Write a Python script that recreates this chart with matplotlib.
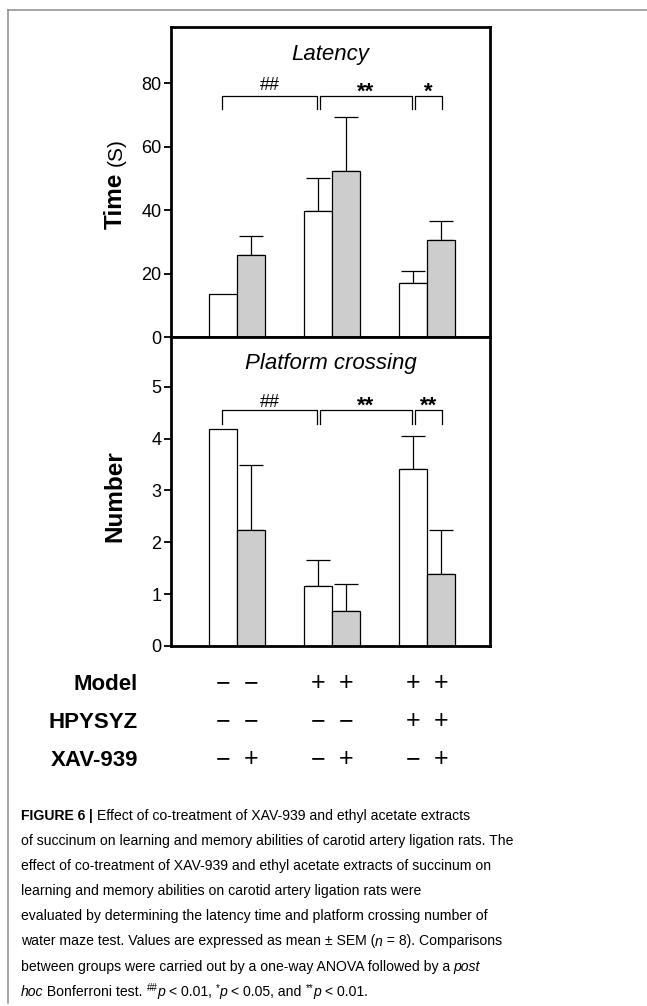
import matplotlib
matplotlib.use("Agg")
import matplotlib.pyplot as plt
import matplotlib.transforms as mtransforms
from matplotlib.lines import Line2D
import numpy as np

plt.rcParams['font.family'] = ['Liberation Sans', 'DejaVu Sans']

# data (mean and SEM, n = 8)
latency = [13.7, 25.8, 39.6, 52.5, 17.0, 30.5]
latency_sem = [0, 6.2, 10.7, 16.9, 3.7, 6.0]
crossing = [4.18, 2.24, 1.15, 0.67, 3.42, 1.39]
crossing_sem = [0, 1.25, 0.51, 0.52, 0.63, 0.85]

# significance brackets: (from bar, to bar, label)
latency_sig = [(0, 2, "##"), (2, 4, "**"), (4, 5, "*")]
crossing_sig = [(0, 2, "##"), (2, 4, "**"), (4, 5, "**")]

row_labels = ["Model", "HPYSYZ", "XAV-939"]
model_signs = ["\u2212", "\u2212", "+", "+", "+", "+"]
hpysyz_signs = ["\u2212", "\u2212", "\u2212", "\u2212", "+", "+"]
xav_signs = ["\u2212", "+", "\u2212", "+", "\u2212", "+"]

W, H = 647, 1006
fig = plt.figure(figsize=(W / 100, H / 100), dpi=100)


def fx(px):
    return px / W


def fy(py):
    return 1 - py / H


bw = 0.295
xc = []
for g in range(3):
    xc += [g - bw / 2, g + bw / 2]
xc = np.array(xc)
colors = ["white", "#cdcdcd"] * 3

ax1 = fig.add_axes([fx(171), fy(337), fx(490) - fx(171), fy(27) - fy(337)])
ax2 = fig.add_axes([fx(171), fy(646), fx(490) - fx(171), fy(337) - fy(646)])


def panel(ax, vals, sem, sig, ylim, ticks, title, br_hi, br_lo, lab_y):
    ax.bar(xc, vals, width=bw, color=colors, edgecolor="black", linewidth=0.9, zorder=2)
    sem = np.array(sem)
    m = sem > 0
    ax.errorbar(xc[m], np.array(vals)[m], yerr=[np.zeros(m.sum()), sem[m]], fmt="none",
                ecolor="black", elinewidth=0.9, capsize=8.5, capthick=0.9, zorder=1)
    ax.set_xlim(-0.695, 2.663)
    ax.set_ylim(*ylim)
    ax.set_yticks(ticks)
    ax.set_xticks([])
    for s in ax.spines.values():
        s.set_linewidth(2.0)
    ax.tick_params(axis="y", length=5, width=1.3, pad=2, labelsize=13)
    ax.text(0.5, title[1], title[0], transform=ax.transAxes, ha="center", va="center",
            fontsize=16, style="italic")
    for i, j, lab in sig:
        left = xc[i] + (0.018 if i > 0 else -0.01)
        right = xc[j] + (0.01 if j == 5 else -0.012)
        ax.plot([left, left, right, right], [br_lo, br_hi, br_hi, br_lo], color="black", lw=0.9)
        if "*" in lab:
            ax.text((left + right) / 2, lab_y[1], lab, ha="center", va="center",
                    fontsize=16, fontweight="bold")
        else:
            ax.text((left + right) / 2, lab_y[0], lab, ha="center", va="center", fontsize=13)


panel(ax1, latency, latency_sem, latency_sig, (0, 97.8), [0, 20, 40, 60, 80],
      ("Latency", 0.91), 76.1, 71.9, (79.3, 77.2))
panel(ax2, crossing, crossing_sem, crossing_sig, (0, 5.96), [0, 1, 2, 3, 4, 5],
      ("Platform crossing", 0.915), 4.56, 4.28, (4.69, 4.63))

# y labels
fig.text(fx(121.7), fy(173), "Time", rotation=90, rotation_mode="anchor", ha="right",
         va="baseline", fontsize=17.5, fontweight="bold")
fig.text(fx(121.7), fy(166), "(S)", rotation=90, rotation_mode="anchor", ha="left",
         va="baseline", fontsize=15)
fig.text(fx(121.7), fy(496), "Number", rotation=90, rotation_mode="anchor", ha="center",
         va="baseline", fontsize=17.5, fontweight="bold")

# treatment table
trans = mtransforms.blended_transform_factory(ax2.transData, fig.transFigure)
for lab, signs, base in zip(row_labels, [model_signs, hpysyz_signs, xav_signs], [690.5, 728.5, 766.5]):
    fig.text(fx(138), fy(base), lab, ha="right", va="baseline", fontsize=16, fontweight="bold")
    for x, s in zip(xc, signs):
        ax2.text(x, fy(base), s, transform=trans, ha="center", va="baseline", fontsize=18,
                 clip_on=False)

# page frame
fig.add_artist(Line2D([fx(8), 1], [fy(10), fy(10)], transform=fig.transFigure, color="#8c8c8c", lw=1.1))
fig.add_artist(Line2D([fx(8), fx(8)], [fy(10), fy(1003)], transform=fig.transFigure, color="#8c8c8c", lw=1.1))

# caption, written run by run
renderer = fig.canvas.get_renderer()
cap_font = ["Liberation Sans", "DejaVu Sans"]
cap_size = 10.1


def run_width(s, **kw):
    a = fig.text(0, 0, s + "|", **kw)
    b = fig.text(0, 0, "|", **kw)
    w = a.get_window_extent(renderer).width - b.get_window_extent(renderer).width
    a.remove()
    b.remove()
    return w


def caption_line(py, runs):
    x = 20.7
    for s, st in runs:
        kw = dict(family=cap_font, fontsize=cap_size)
        dy = 0
        if st == "b":
            kw["fontweight"] = "bold"
        elif st == "i":
            kw["style"] = "italic"
        elif st == "sup":
            kw["fontsize"] = 7
            dy = -5
        fig.text(fx(x), fy(py + dy), s, ha="left", va="baseline", **kw)
        x += run_width(s, **kw)


caption = [
    [("FIGURE 6", "b"), (" | ", "b"), ("Effect of co-treatment of XAV-939 and ethyl acetate extracts", "r")],
    [("of succinum on learning and memory abilities of carotid artery ligation rats. The", "r")],
    [("effect of co-treatment of XAV-939 and ethyl acetate extracts of succinum on", "r")],
    [("learning and memory abilities on carotid artery ligation rats were", "r")],
    [("evaluated by determining the latency time and platform crossing number of", "r")],
    [("water maze test. Values are expressed as mean \u00b1 SEM (", "r"), ("n", "i"),
     (" = 8). Comparisons", "r")],
    [("between groups were carried out by a one-way ANOVA followed by a ", "r"), ("post", "i")],
    [("hoc", "i"), (" Bonferroni test. ", "r"), ("##", "sup"), ("p", "i"), (" < 0.01, ", "r"),
     ("*", "sup"), ("p", "i"), (" < 0.05, and ", "r"), ("**", "sup"), ("p", "i"), (" < 0.01.", "r")],
]
for k, runs in enumerate(caption):
    caption_line(820 + 25.1 * k, runs)

fig.savefig("out.png", dpi=100)
